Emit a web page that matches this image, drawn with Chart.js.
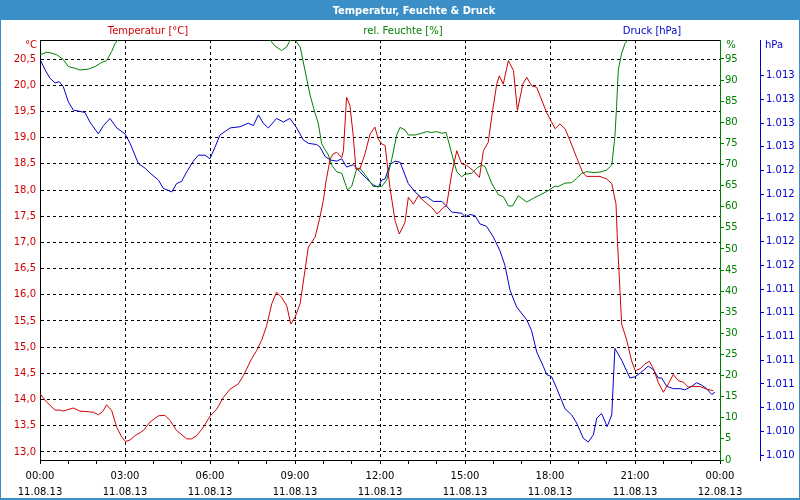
<!DOCTYPE html>
<html>
<head>
<meta charset="utf-8">
<script src="https://cdn.jsdelivr.net/npm/chart.js@4.4.0/dist/chart.umd.min.js"></script>
<style>
    body { margin: 0; background: #fff; }
    .page { position: relative; width: 800px; height: 500px; background: #fff; font-family: "DejaVu Sans", sans-serif; overflow: hidden; }
    .title-bar { position: absolute; left: 0; top: 0; width: 800px; height: 20px; background: #3c8fc6; }
    .frame { position: absolute; left: 0; top: 0; width: 800px; height: 500px; box-sizing: border-box; border: 1px solid #3c8fc6; border-bottom-width: 2px; pointer-events: none; z-index: 3; }
    .lbl { position: absolute; transform: translate(-50%, -50%); white-space: nowrap; line-height: 1; font-size: 10px; z-index: 2; }
    .title { color: #fff; font-weight: bold; font-size: 11px; font-family: "DejaVu Sans Condensed", "DejaVu Sans", sans-serif; }
    canvas { position: absolute; left: 0; top: 0; z-index: 1; }
</style>
</head>
<body>
<div class="page">
    <div class="title-bar"></div>
    <span class="lbl title" style="left: 414px; top: 10px;">Temperatur, Feuchte &amp; Druck</span>
    <span class="lbl" style="left: 148px; top: 31px; color: #d00000;">Temperatur [°C]</span>
    <span class="lbl" style="left: 403px; top: 31px; color: #008000;">rel. Feuchte [%]</span>
    <span class="lbl" style="left: 652px; top: 31px; color: #0000cc;">Druck [hPa]</span>
    <span class="lbl" style="left: 31px; top: 45px; color: #d00000;">°C</span>
    <span class="lbl" style="left: 731px; top: 45px; color: #008000;">%</span>
    <span class="lbl" style="left: 774px; top: 45px; color: #0000cc;">hPa</span>
    <canvas id="chart" width="800" height="500"></canvas>
    <div class="frame"></div>
</div>
<script>
// hours after 00:00 on 11.08.13
const tempHours = [0, 0.24, 0.53, 0.71, 0.82, 1.18, 1.41, 1.88, 2.06, 2.21,
    2.35, 2.53, 2.71, 2.88, 3.02, 3.18, 3.35, 3.65, 3.88, 4.18,
    4.41, 4.59, 4.82, 5.18, 5.35, 5.53, 5.76, 6.01, 6.24, 6.47,
    6.71, 7.00, 7.18, 7.47, 7.65, 7.82, 8.00, 8.18, 8.35, 8.53,
    8.71, 8.85, 9.00, 9.18, 9.35, 9.47, 9.71, 9.88, 10.00, 10.10,
    10.24, 10.35, 10.47, 10.65, 10.71, 10.82, 10.94, 11.06, 11.15, 11.29,
    11.47, 11.65, 11.82, 11.94, 12.06, 12.18, 12.35, 12.53, 12.68, 12.88,
    13.00, 13.18, 13.35, 13.59, 13.82, 14.02, 14.24, 14.35, 14.53, 14.71,
    14.88, 15.06, 15.29, 15.51, 15.65, 15.82, 15.94, 16.12, 16.21, 16.35,
    16.53, 16.71, 16.85, 17.04, 17.18, 17.35, 17.53, 17.88, 18.18, 18.35,
    18.53, 18.71, 18.94, 19.15, 19.29, 19.76, 20.00, 20.18, 20.33, 20.38,
    20.47, 20.53, 20.71, 20.88, 21.01, 21.18, 21.35, 21.51, 21.65, 21.82,
    22.00, 22.18, 22.35, 22.53, 22.71, 22.88, 23.06, 23.29, 23.53, 23.76];
const tempValues = [14.11, 13.95, 13.80, 13.80, 13.78, 13.84, 13.78, 13.76, 13.71, 13.77,
    13.90, 13.79, 13.47, 13.29, 13.20, 13.23, 13.31, 13.41, 13.57, 13.69,
    13.70, 13.60, 13.41, 13.25, 13.25, 13.31, 13.47, 13.69, 13.82, 14.04,
    14.20, 14.30, 14.46, 14.78, 14.94, 15.13, 15.41, 15.83, 16.05, 15.95,
    15.79, 15.44, 15.57, 15.83, 16.46, 16.91, 17.10, 17.48, 17.80, 18.18,
    18.59, 18.69, 18.72, 18.62, 18.75, 19.77, 19.61, 19.01, 18.40, 18.40,
    18.69, 19.07, 19.20, 18.97, 18.88, 18.85, 18.05, 17.42, 17.16, 17.38,
    17.86, 17.73, 17.89, 17.77, 17.67, 17.54, 17.67, 17.70, 18.31, 18.75,
    18.50, 18.47, 18.37, 18.24, 18.75, 18.91, 19.39, 20.02, 20.18, 20.02,
    20.47, 20.28, 19.52, 20.02, 20.15, 19.99, 19.96, 19.48, 19.17, 19.26,
    19.17, 18.94, 18.62, 18.34, 18.26, 18.26, 18.21, 18.12, 17.73, 17.03,
    16.08, 15.44, 15.13, 14.74, 14.55, 14.59, 14.68, 14.73, 14.59, 14.33,
    14.14, 14.30, 14.48, 14.36, 14.33, 14.24, 14.25, 14.25, 14.20, 14.17];

// values above 99.5 % run off the top of the plot
const humHours = [0, 0.24, 0.35, 0.59, 0.82, 1.00, 1.24, 1.41, 1.71, 1.94,
    2.18, 2.35, 2.53, 2.65, 2.80, 8.00, 8.12, 8.29, 8.53, 8.71,
    8.80, 8.94, 9.02, 9.18, 9.35, 9.53, 9.71, 9.82, 9.94, 10.06,
    10.18, 10.29, 10.47, 10.65, 10.85, 11.00, 11.18, 11.29, 11.53, 11.76,
    12.06, 12.24, 12.41, 12.59, 12.71, 12.88, 13.00, 13.24, 13.41, 13.65,
    13.82, 14.00, 14.18, 14.33, 14.47, 14.59, 14.71, 14.88, 15.00, 15.24,
    15.41, 15.59, 15.71, 15.94, 16.18, 16.35, 16.53, 16.68, 16.88, 17.18,
    17.41, 17.65, 17.88, 18.18, 18.29, 18.53, 18.76, 18.94, 19.12, 19.29,
    19.53, 19.76, 20.00, 20.18, 20.29, 20.35, 20.41, 20.53, 20.65, 20.80,
    23.82];
const humValues = [96.0, 96.6, 96.5, 96.0, 94.9, 93.2, 92.8, 92.4, 92.6, 93.2,
    94.2, 94.6, 96.8, 98.7, 100, 100, 99.5, 98.1, 97.0, 97.9,
    99.1, 100, 99.3, 97.9, 92.4, 86.5, 82.1, 79.8, 75.0, 73.5,
    72.3, 69.9, 68.3, 67.9, 64.0, 64.8, 69.1, 69.1, 67.1, 64.8,
    64.8, 66.4, 71.1, 77.0, 78.8, 78.2, 77.0, 77.0, 77.3, 77.8,
    77.6, 77.8, 77.4, 77.6, 74.2, 71.1, 68.3, 67.1, 67.7, 67.9,
    69.1, 69.9, 69.5, 65.6, 62.8, 62.4, 60.2, 60.2, 62.6, 61.1,
    62.0, 62.8, 63.6, 64.9, 64.8, 65.6, 65.7, 66.7, 67.9, 68.3,
    68.1, 68.2, 68.7, 69.9, 76.6, 83.7, 92.4, 96.4, 98.7, 100,
    100];

const pressHours = [0, 0.18, 0.35, 0.53, 0.68, 0.82, 1.00, 1.18, 1.41, 1.59,
    1.76, 2.06, 2.24, 2.47, 2.71, 3.00, 3.18, 3.47, 3.71, 3.88,
    4.18, 4.35, 4.65, 4.82, 5.00, 5.18, 5.41, 5.59, 5.82, 6.00,
    6.18, 6.35, 6.71, 7.06, 7.35, 7.53, 7.71, 7.88, 8.06, 8.35,
    8.59, 8.82, 9.06, 9.29, 9.47, 9.76, 9.88, 10.06, 10.24, 10.47,
    10.65, 10.82, 11.06, 11.29, 11.53, 11.76, 11.94, 12.06, 12.18, 12.35,
    12.53, 12.71, 13.00, 13.24, 13.47, 13.65, 13.88, 14.18, 14.35, 14.53,
    14.88, 15.01, 15.18, 15.35, 15.53, 15.76, 16.00, 16.24, 16.41, 16.59,
    16.82, 17.18, 17.35, 17.53, 17.76, 17.88, 18.06, 18.24, 18.53, 18.76,
    18.94, 19.18, 19.35, 19.53, 19.65, 19.82, 20.02, 20.18, 20.29, 20.53,
    20.82, 21.00, 21.18, 21.47, 21.65, 21.82, 21.94, 22.12, 22.35, 22.59,
    22.76, 23.00, 23.18, 23.35, 23.53, 23.71, 23.82];
const pressValues = [1013.34, 1013.25, 1013.18, 1013.14, 1013.15, 1013.11, 1012.98, 1012.91, 1012.90, 1012.89,
    1012.81, 1012.71, 1012.78, 1012.84, 1012.76, 1012.71, 1012.63, 1012.46, 1012.42, 1012.38,
    1012.32, 1012.25, 1012.22, 1012.29, 1012.31, 1012.39, 1012.48, 1012.53, 1012.53, 1012.50,
    1012.60, 1012.70, 1012.76, 1012.77, 1012.80, 1012.78, 1012.87, 1012.80, 1012.76, 1012.84,
    1012.81, 1012.84, 1012.76, 1012.66, 1012.63, 1012.62, 1012.60, 1012.52, 1012.49, 1012.48,
    1012.50, 1012.43, 1012.45, 1012.39, 1012.33, 1012.28, 1012.26, 1012.32, 1012.33, 1012.45,
    1012.48, 1012.47, 1012.29, 1012.22, 1012.17, 1012.18, 1012.14, 1012.14, 1012.10, 1012.05,
    1012.04, 1012.01, 1012.03, 1012.02, 1011.95, 1011.93, 1011.84, 1011.72, 1011.60, 1011.39,
    1011.25, 1011.14, 1011.05, 1010.87, 1010.75, 1010.68, 1010.66, 1010.56, 1010.39, 1010.34,
    1010.27, 1010.14, 1010.11, 1010.17, 1010.31, 1010.35, 1010.24, 1010.34, 1010.90, 1010.80,
    1010.65, 1010.66, 1010.69, 1010.75, 1010.72, 1010.65, 1010.65, 1010.58, 1010.56, 1010.56,
    1010.55, 1010.58, 1010.61, 1010.59, 1010.56, 1010.51, 1010.53];

// axis ticks
const hourTicks = [0, 1, 2, 3, 4, 5, 6, 7, 8, 9, 10, 11, 12, 13, 14, 15, 16, 17, 18, 19, 20, 21, 22, 23, 24];
const timeLabels = ['00:00', '03:00', '06:00', '09:00', '12:00', '15:00', '18:00', '21:00', '00:00'];
const dateLabels = ['11.08.13', '11.08.13', '11.08.13', '11.08.13', '11.08.13', '11.08.13', '11.08.13', '11.08.13', '12.08.13'];
const tempTicks = [13.0, 13.5, 14.0, 14.5, 15.0, 15.5, 16.0, 16.5, 17.0, 17.5, 18.0, 18.5, 19.0, 19.5, 20.0, 20.5];
const humTicks = [0, 5, 10, 15, 20, 25, 30, 35, 40, 45, 50, 55, 60, 65, 70, 75, 80, 85, 90, 95];
const pressTicks = [1010.0, 1010.2, 1010.4, 1010.6, 1010.8, 1011.0, 1011.2, 1011.4, 1011.6, 1011.8,
    1012.0, 1012.2, 1012.4, 1012.6, 1012.8, 1013.0, 1013.2];

const RED = '#d00000';
const GREEN = '#008000';
const BLUE = '#0000cc';
const tickFont = { family: 'DejaVu Sans', size: 10 };
const CLEAR = 'rgba(0,0,0,0)';

const pairs = (xs, ys) => xs.map((x, i) => ({ x: x, y: ys[i] }));
const useTicks = (list) => (scale) => { scale.ticks = list.map(v => ({ value: v })); };

new Chart(document.getElementById('chart'), {
    type: 'line',
    data: {
        datasets: [
            { label: 'Temperatur [°C]', data: pairs(tempHours, tempValues), yAxisID: 'yT', borderColor: RED },
            { label: 'rel. Feuchte [%]', data: pairs(humHours, humValues), yAxisID: 'yH', borderColor: GREEN },
            { label: 'Druck [hPa]', data: pairs(pressHours, pressValues), yAxisID: 'yP', borderColor: BLUE }
        ]
    },
    options: {
        responsive: false,
        animation: false,
        devicePixelRatio: 1,
        layout: { padding: { top: 40, left: 0, right: 0, bottom: 0 } },
        elements: {
            point: { radius: 0 },
            line: { borderWidth: 1, tension: 0, fill: false }
        },
        plugins: {
            legend: { display: false },
            tooltip: { enabled: false }
        },
        scales: {
            x: {
                type: 'linear', position: 'bottom', min: 0, max: 24,
                afterBuildTicks: useTicks(hourTicks),
                afterFit: (s) => { s.height = 40; },
                grid: {
                    color: (c) => (c.tick && c.tick.value % 3 === 0 && c.tick.value > 0 && c.tick.value < 24) ? '#000' : CLEAR,
                    tickColor: '#000', tickLength: 4, tickBorderDash: []
                },
                border: { color: '#000', width: 1, dash: [3, 3] },
                ticks: {
                    color: '#000', font: { family: 'DejaVu Sans', size: 10, lineHeight: 1.6 },
                    padding: 4, maxRotation: 0, autoSkip: false,
                    callback: (v) => v % 3 === 0 ? [timeLabels[v / 3], dateLabels[v / 3]] : ''
                }
            },
            xTop: {
                type: 'linear', position: 'top', min: 0, max: 24,
                afterFit: (s) => { s.height = 0; },
                grid: { drawOnChartArea: false, drawTicks: false },
                border: { color: '#000', width: 1 },
                ticks: { display: false }
            },
            yT: {
                type: 'linear', position: 'left', min: 12.847, max: 20.863,
                afterBuildTicks: useTicks(tempTicks),
                afterFit: (s) => { s.width = 40; },
                grid: { color: '#000', drawTicks: false },
                border: { color: '#000', width: 1, dash: [3, 3] },
                ticks: {
                    color: RED, font: tickFont, padding: 4,
                    callback: (v) => v.toFixed(1).replace('.', ',')
                }
            },
            yH: {
                type: 'linear', position: 'right', weight: 0, min: 0, max: 99.5,
                afterBuildTicks: useTicks(humTicks),
                afterFit: (s) => { s.width = 40; },
                grid: { drawOnChartArea: false, tickColor: GREEN, tickLength: 4, tickBorderDash: [] },
                border: { color: GREEN, width: 1 },
                ticks: { color: GREEN, font: tickFont, padding: 1, callback: (v) => String(v) }
            },
            yP: {
                type: 'linear', position: 'right', weight: 1, min: 1009.958, max: 1013.502,
                afterBuildTicks: useTicks(pressTicks),
                afterFit: (s) => { s.width = 40; },
                grid: { drawOnChartArea: false, tickColor: BLUE, tickLength: 4, tickBorderDash: [] },
                border: { color: BLUE, width: 1 },
                ticks: {
                    color: BLUE, font: tickFont, padding: 2,
                    callback: (v) => (Math.round(v) / 1000).toFixed(3)
                }
            }
        }
    }
});
</script>
</body>
</html>
